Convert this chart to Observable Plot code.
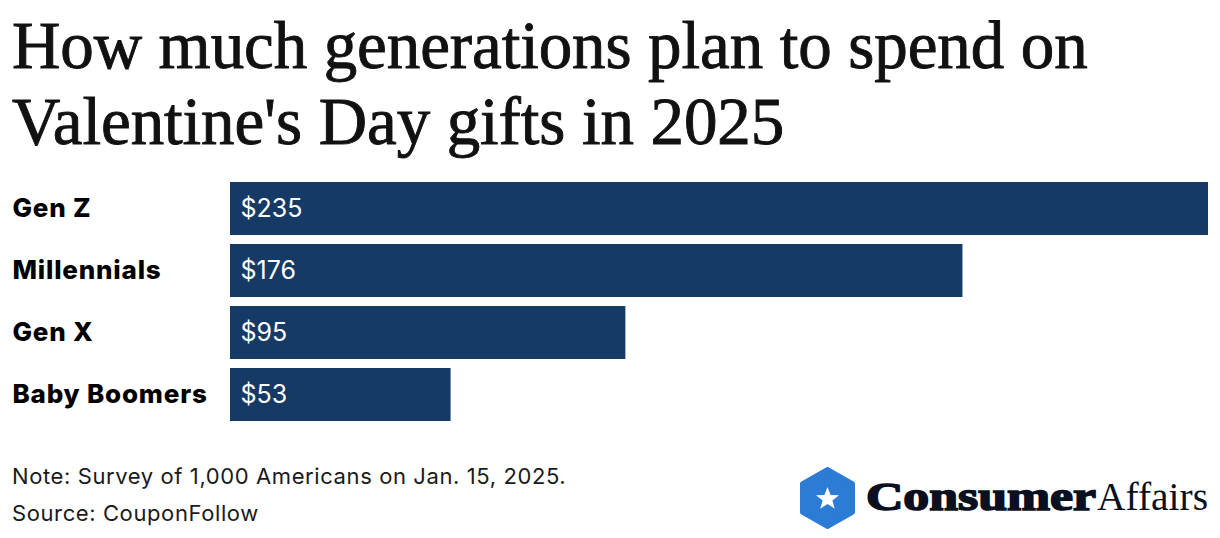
<!DOCTYPE html>
<html>
<head>
<meta charset="utf-8">
<script src="https://cdn.jsdelivr.net/npm/d3@7"></script>
<script src="https://cdn.jsdelivr.net/npm/@observablehq/plot@0.6"></script>
<style>
  html, body { margin: 0; padding: 0; background: #fff; }
  #wrap { position: relative; width: 1220px; height: 538px; overflow: hidden; }
  #title { position: absolute; left: 12px; top: 7px; font-family: "Liberation Serif", serif; font-size: 67px; line-height: 76px; color: #111; letter-spacing: -0.1px; white-space: nowrap; -webkit-text-stroke: 0.9px #111; }
  #chart { position: absolute; left: 0; top: 173px; }
  #chart g[aria-label="y-axis tick label"] text { letter-spacing: 0.8px; }
  #notes { position: absolute; left: 12px; top: 458px; font-family: Inter, sans-serif; font-size: 22px; line-height: 37px; color: #1a1a1a; letter-spacing: 0.6px; }
  #logo { position: absolute; left: 790px; top: 460px; }
</style>
</head>
<body>
<div id="wrap">
  <div id="title">How much generations plan to spend on<br>Valentine's Day gifts in 2025</div>
  <div id="chart"></div>
  <div id="notes">Note: Survey of 1,000 Americans on Jan. 15, 2025.<br>Source: CouponFollow</div>
  <svg id="logo" width="430" height="78" viewBox="0 0 430 78">
    <polygon points="37.5,9 63,23.5 63,52.5 37.5,67 12,52.5 12,23.5" fill="#2c7bd4" stroke="#2c7bd4" stroke-width="4" stroke-linejoin="round"/>
    <polygon points="37.5,27 40.6,35 49,35.3 42.4,40.6 44.8,48.7 37.5,44 30.2,48.7 32.6,40.6 26,35.3 34.4,35" fill="#fff"/>
    <text x="76" y="50" font-family="Liberation Serif, serif" font-weight="bold" font-size="40" fill="#0b1020" stroke="#0b1020" stroke-width="1.6" textLength="230" lengthAdjust="spacingAndGlyphs">Consumer</text>
    <text x="307" y="50" font-family="Liberation Serif, serif" font-size="40" fill="#0b1020" textLength="111" lengthAdjust="spacingAndGlyphs">Affairs</text>
  </svg>
</div>
<script>
const categories = ["Gen Z", "Millennials", "Gen X", "Baby Boomers"];
const values = [235, 176, 95, 53];
const valueLabels = ["$235", "$176", "$95", "$53"];

const data = categories.map((c, i) => ({cat: c, value: values[i], label: valueLabels[i]}));

const chart = Plot.plot({
  width: 1220,
  height: 257,
  marginLeft: 230,
  marginRight: 12,
  marginTop: 0,
  marginBottom: 0,
  style: {fontFamily: "Inter, sans-serif", color: "#000", background: "transparent"},
  x: {domain: [0, 235], axis: null},
  y: {domain: categories, padding: 0.145, axis: null},
  marks: [
    Plot.barX(data, {x: "value", y: "cat", fill: "#163a66"}),
    Plot.text(data, {x: 0, y: "cat", text: "label", textAnchor: "start", dx: 10, fill: "#fff", fontSize: 25, fontWeight: 400}),
    Plot.axisY({tickSize: 0, textAnchor: "start", dx: -209, fontSize: 26, fontWeight: 800, fill: "#000", label: null})
  ]
});
document.getElementById("chart").appendChild(chart);
</script>
</body>
</html>
